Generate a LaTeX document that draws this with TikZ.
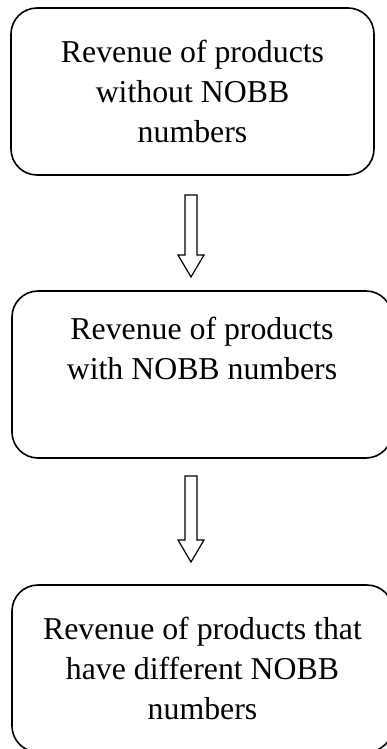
\documentclass[tikz,border=0pt]{standalone}
\usepackage{fontspec}
\setmainfont{Liberation Serif}
\usepackage{tikz}
\usetikzlibrary{calc,positioning}

\tikzset{
  revbox/.style={draw,line width=1.6pt,rounded corners=26pt,align=center,
    minimum height=167pt,inner sep=0pt,font=\fontsize{31.8}{40}\selectfont},
  hollowarrow/.style={draw,line width=1.2pt,line join=miter}
}

\begin{document}
\begin{tikzpicture}
\useasboundingbox (0,0) rectangle (387pt,-749pt);
\node[revbox,minimum width=363pt] (nobb0) at (192.5pt,-91.5pt) {Revenue of products\\without NOBB\\numbers};
\node[revbox,minimum width=380pt] (nobb1) at (202pt,-374.5pt) {Revenue of products\\with NOBB numbers\\\strut};
\node[revbox,minimum width=381pt] (nobb2) at (202.5pt,-668.5pt) {Revenue of products that\\ have different NOBB\\numbers};
% hollow arrows between the boxes
\coordinate (top1) at (191pt,-195pt);
\coordinate (tip1) at (191pt,-277pt);
\coordinate (top2) at (191pt,-476pt);
\coordinate (tip2) at (191pt,-562pt);
\draw[hollowarrow] ($(top1)+(-6pt,0)$) -- ($(top1)+(6pt,0)$) -- ($(tip1)+(6pt,22pt)$) -- ($(tip1)+(13pt,22pt)$) -- (tip1) -- ($(tip1)+(-13pt,22pt)$) -- ($(tip1)+(-6pt,22pt)$) -- cycle;
\draw[hollowarrow] ($(top2)+(-6pt,0)$) -- ($(top2)+(6pt,0)$) -- ($(tip2)+(6pt,22pt)$) -- ($(tip2)+(13pt,22pt)$) -- (tip2) -- ($(tip2)+(-13pt,22pt)$) -- ($(tip2)+(-6pt,22pt)$) -- cycle;
\end{tikzpicture}
\end{document}
